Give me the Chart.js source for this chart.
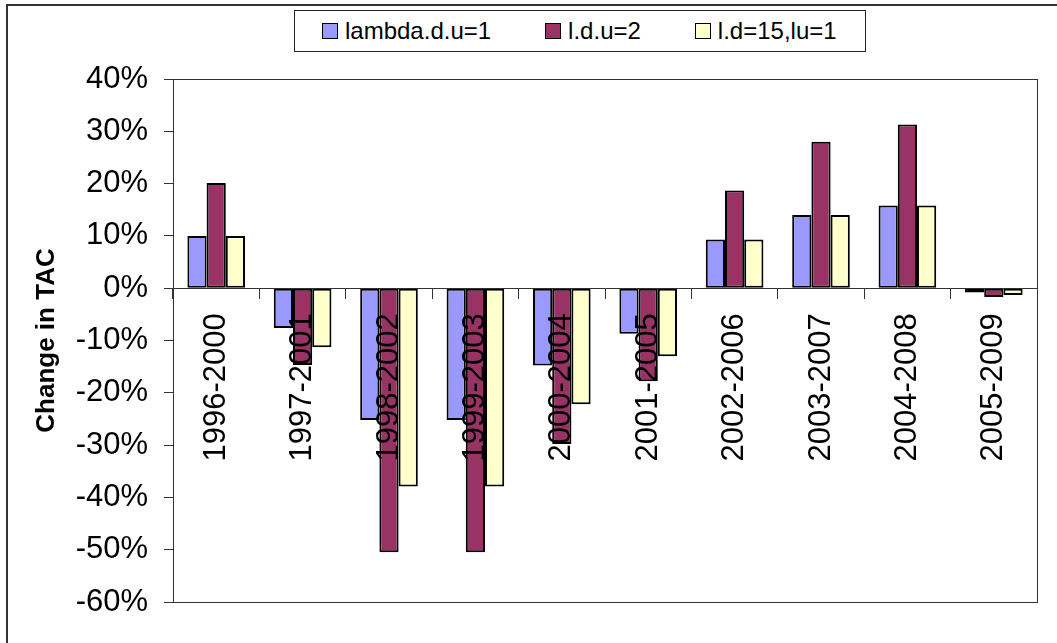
<!DOCTYPE html>
<html>
<head>
<meta charset="utf-8">
<script src="https://cdn.jsdelivr.net/npm/chart.js@4"></script>
<style>
    html, body { margin: 0; padding: 0; background: #fff; }
    body { width: 1057px; height: 643px; position: relative; overflow: hidden; font-family: "Liberation Sans", Arial, sans-serif; }
    #frame { position: absolute; left: 6px; top: 4px; width: 1100px; height: 700px; border-left: 2px solid #333; border-top: 2px solid #333; }
    #wrap { position: absolute; left: 0; top: 0; width: 1057px; height: 643px; }
    #legend { position: absolute; left: 294px; top: 10px; height: 42px; box-sizing: border-box; border: 1px solid #222; background: #fff;
        display: flex; align-items: center; padding: 0 28px 0 27px; font-size: 24px; color: #000; white-space: nowrap; }
    #legend .item { display: flex; align-items: center; }
    #legend .item + .item { margin-left: 54px; }
    #legend .box { width: 14px; height: 14px; border: 1px solid #000; margin-right: 7px; }
</style>
</head>
<body>
<div id="frame"></div>
<div id="wrap"><canvas id="tac" width="1057" height="643"></canvas></div>
<div id="legend"></div>
<script>
    const categories = ['1996-2000', '1997-2001', '1998-2002', '1999-2003', '2000-2004', '2001-2005', '2002-2006', '2003-2007', '2004-2008', '2005-2009'];
    const lambdaDU1 = [10.0, -7.6, -25.2, -25.2, -14.8, -8.7, 9.3, 14.0, 15.8, -0.8];
    const ldU2 = [20.1, -14.7, -50.5, -50.5, -29.8, -17.8, 18.7, 28.0, 31.3, -1.7];
    const ld15lu1 = [10.0, -11.3, -37.9, -37.9, -22.2, -13.0, 9.3, 14.0, 15.8, -1.3];
    const seriesNames = ['lambda.d.u=1', 'l.d.u=2', 'l.d=15,lu=1'];
    const seriesColors = ['#9999FF', '#993366', '#FFFFCC'];
    const yMin = -60, yMax = 40, yStep = 10;

    const family = '"Liberation Sans", Arial, sans-serif';
    const bar = (i, data) => ({
        label: seriesNames[i], data, backgroundColor: seriesColors[i], borderColor: '#000',
        borderWidth: 2, borderSkipped: false, categoryPercentage: 0.667, barPercentage: 1,
    });

    const plotFrame = {
        id: 'plotFrame',
        beforeDatasetsDraw(chart) {
            const { ctx, chartArea: a } = chart;
            ctx.save();
            ctx.strokeStyle = '#333';
            ctx.lineWidth = 1;
            ctx.strokeRect(Math.round(a.left) + 0.5, Math.round(a.top) + 0.5, Math.round(a.right - a.left), Math.round(a.bottom - a.top));
            ctx.restore();
        },
    };

    const chart = new Chart(document.getElementById('tac'), {
        type: 'bar',
        data: { labels: categories, datasets: [bar(0, lambdaDU1), bar(1, ldU2), bar(2, ld15lu1)] },
        options: {
            responsive: false, animation: false,
            layout: { padding: { top: 79, right: 20, bottom: 41, left: 0 } },
            plugins: { legend: { display: false }, tooltip: { enabled: false } },
            scales: {
                x: {
                    position: { y: 0 },
                    grid: { offset: true, drawOnChartArea: false, tickLength: 10, tickColor: '#333' },
                    border: { color: '#333', width: 1 },
                    ticks: { z: 1, autoSkip: false, minRotation: 90, maxRotation: 90, padding: 15, color: '#000', font: { family, size: 31 } },
                    afterFit: (scale) => { scale.height = 0; },
                },
                y: {
                    min: yMin, max: yMax,
                    grid: { drawOnChartArea: false, tickLength: 9, tickColor: '#333' },
                    border: { color: '#333', width: 1 },
                    ticks: { stepSize: yStep, padding: 16, color: '#000', font: { family, size: 31 }, callback: (v) => v + '%' },
                    title: { display: true, text: 'Change in TAC', color: '#000', font: { family, size: 26, weight: 'bold' }, padding: { top: 31, bottom: 0 } },
                    afterFit: (scale) => { scale.width = 173; },
                },
            },
        },
        plugins: [plotFrame],
    });

    // html legend built from the datasets
    const legend = document.getElementById('legend');
    chart.data.datasets.forEach((ds) => {
        const item = document.createElement('div');
        item.className = 'item';
        const box = document.createElement('span');
        box.className = 'box';
        box.style.background = ds.backgroundColor;
        const text = document.createElement('span');
        text.textContent = ds.label;
        item.append(box, text);
        legend.append(item);
    });
</script>
</body>
</html>
